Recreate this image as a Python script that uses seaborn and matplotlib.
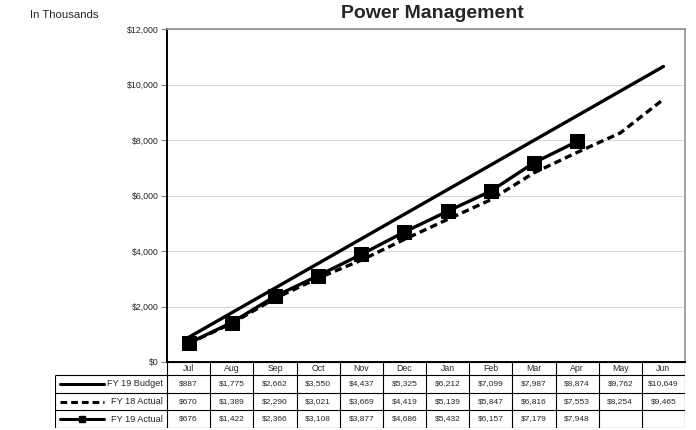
import numpy as np
import pandas as pd
import matplotlib.pyplot as plt
import seaborn as sns

# data (in thousands)
months = ["Jul", "Aug", "Sep", "Oct", "Nov", "Dec", "Jan", "Feb", "Mar", "Apr", "May", "Jun"]
fy19_budget = [887, 1775, 2662, 3550, 4437, 5325, 6212, 7099, 7987, 8874, 9762, 10649]
fy18_actual = [670, 1389, 2290, 3021, 3669, 4419, 5139, 5847, 6816, 7553, 8254, 9465]
fy19_actual = [676, 1422, 2366, 3108, 3877, 4686, 5432, 6157, 7179, 7948]
series_names = ["FY 19 Budget", "FY 18 Actual", "FY 19 Actual"]
y_ticks = [0, 2000, 4000, 6000, 8000, 10000, 12000]

sns.set_style("white")
plt.rcParams["font.family"] = ["Liberation Sans", "DejaVu Sans"]
narrow = ["Liberation Sans Narrow", "Liberation Sans", "DejaVu Sans"]

W, H = 696, 430
fig = plt.figure(figsize=(W / 100, H / 100), dpi=100)

# main chart
left, right, top, bottom = 167, 685, 29, 362
ax = fig.add_axes([left / W, 1 - bottom / H, (right - left) / W, (bottom - top) / H])

styles = [dict(linestyle="-", marker=None),
          dict(linestyle=(0, (2.2, 1.3)), marker=None),
          dict(linestyle="-", marker="s")]
all_series = [fy19_budget, fy18_actual, fy19_actual]

for name, vals, st in zip(series_names, all_series, styles):
    df = pd.DataFrame({"x": np.arange(len(vals)), "y": vals})
    sns.lineplot(data=df, x="x", y="y", ax=ax, color="black", linewidth=2.4,
                 linestyle=st["linestyle"], marker=st["marker"],
                 markersize=9.5, markeredgecolor="black", label=name, legend=False)

ax.set_xlim(-0.5, len(months) - 0.5)
ax.set_ylim(0, 12000)
ax.set_yticks(y_ticks)
ax.set_yticklabels([f"${v:,.0f}" for v in y_ticks])
ax.set_xticks([])
ax.set_xlabel("")
ax.set_ylabel("")
ax.grid(axis="y", color="#d4d4d4", linewidth=0.7)
ax.tick_params(axis="y", left=True, length=4, width=0.8, color="#808080",
               labelsize=6.3, pad=2)
for s in ["left", "bottom"]:
    ax.spines[s].set_color("black")
    ax.spines[s].set_linewidth(1.4)
for s in ["top", "right"]:
    ax.spines[s].set_color("#909090")
    ax.spines[s].set_linewidth(1.2)

fig.text(432 / W, 1 - 14 / H, "Power Management", ha="center", va="center",
         fontsize=14, fontweight="bold")
fig.text(30 / W, 1 - 15 / H, "In Thousands", ha="left", va="center", fontsize=8.2)

# data table below the chart
t_left, t_bottom = 55, 428
unit = (right - left) / len(months)
tab = fig.add_axes([t_left / W, 1 - t_bottom / H, (right - t_left) / W, (t_bottom - bottom) / H])
x0 = -0.5 - (left - t_left) / unit
tab.set_xlim(x0, len(months) - 0.5)
tab.set_ylim(66, 0)
tab.axis("off")

rows = [0, 13, 31, 48, 66]
lw = 0.8
# month header
tab.hlines(0, -0.5, len(months) - 0.5, color="black", lw=lw)
tab.hlines(rows[1:], x0, len(months) - 0.5, color="black", lw=lw)
tab.vlines(np.arange(len(months) + 1) - 0.5, 0, 66, color="black", lw=lw)
tab.vlines(x0, rows[1], 66, color="black", lw=lw)
for i, m in enumerate(months):
    tab.text(i, (rows[0] + rows[1]) / 2, m, ha="center", va="center",
             fontsize=6.3, family=narrow)

for r, (name, vals, st) in enumerate(zip(series_names, all_series, styles)):
    yc = (rows[r + 1] + rows[r + 2]) / 2
    lx0 = x0 + 5 / unit
    lx1 = x0 + 49 / unit
    tab.plot([lx0, lx1], [yc, yc], color="black", lw=2.2, linestyle=st["linestyle"])
    if st["marker"]:
        tab.plot([(lx0 + lx1) / 2], [yc], marker="s", color="black", markersize=5)
    tab.text(-0.5 - 4 / unit, yc, name, ha="right", va="center", fontsize=6.6, family=narrow)
    for i, v in enumerate(vals):
        tab.text(i, yc, f"${v:,.0f}", ha="center", va="center", fontsize=6, family=narrow)

fig.savefig("out.png", dpi=100)
